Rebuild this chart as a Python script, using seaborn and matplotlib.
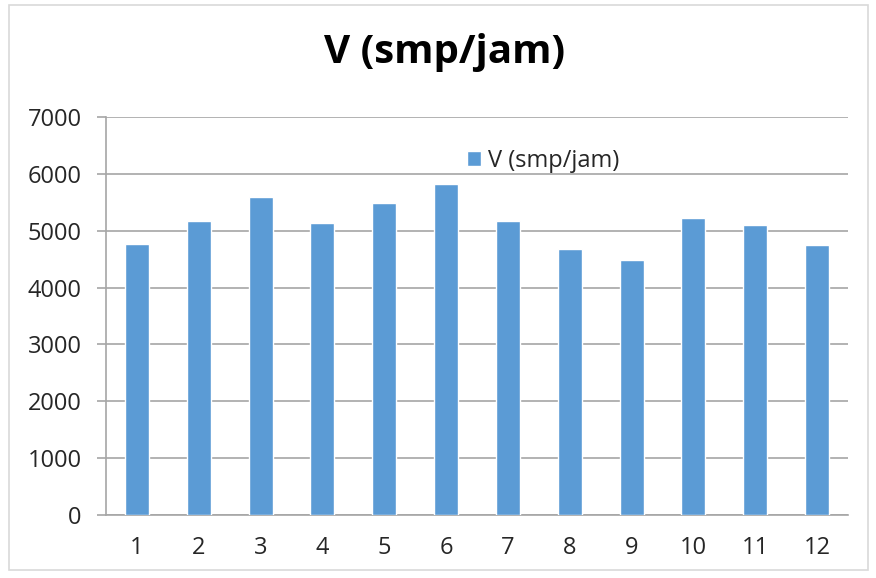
import matplotlib
matplotlib.use("Agg")
import matplotlib.pyplot as plt
import seaborn as sns
import pandas as pd
from matplotlib.patches import Rectangle

# data
jam = [str(i) for i in range(1, 13)]
v_smp = [4770, 5165, 5585, 5140, 5480, 5830, 5165, 4685, 4485, 5230, 5095, 4755]

df = pd.DataFrame({'jam': jam, 'V': v_smp})

sns.set_theme(style='white')
plt.rcParams['font.family'] = ['Open Sans', 'DejaVu Sans']

fig = plt.figure(figsize=(8.76, 5.78), dpi=100)
ax = fig.add_axes([106/876, 63/578, 742/876, 398/578])

sns.barplot(data=df, x='jam', y='V', color='#5B9BD5', width=0.39,
            saturation=1, label='V (smp/jam)', ax=ax, zorder=3)

ax.set_ylim(0, 7000)
ax.set_yticks(range(0, 7001, 1000))
ax.set_xlim(-0.5, 11.5)
ax.yaxis.grid(True, color='#A6A6A6', linewidth=1.2, zorder=0)
ax.set_axisbelow(True)
ax.set_xlabel('')
ax.set_ylabel('')

for s in ['top', 'right']:
    ax.spines[s].set_visible(False)
for s in ['left', 'bottom']:
    ax.spines[s].set_color('#A6A6A6')
    ax.spines[s].set_linewidth(1.2)

# tick marks between categories on x, outward marks on y
ax.set_xticks([i - 0.5 for i in range(13)], minor=True)
ax.tick_params(axis='x', which='major', length=0, labelsize=17, pad=15, colors='#262626')
ax.tick_params(axis='x', which='minor', length=6, color='#A6A6A6', width=1.2, direction='out')
ax.tick_params(axis='y', length=6.5, color='#A6A6A6', width=1.2, direction='out',
               labelsize=17, pad=11, labelcolor='#262626', left=True)

fig.text(445/876, 1 - 63/578, 'V (smp/jam)', ha='center', va='baseline',
         fontsize=29, fontweight='bold', color='black')

ax.legend(loc='center left', bbox_to_anchor=(467/876, 1 - 161/578),
          bbox_transform=fig.transFigure, frameon=False, fontsize=17,
          borderpad=0, borderaxespad=0,
          handlelength=0.6, handleheight=0.6, handletextpad=0.3,
          labelcolor='#262626')

fig.patches.append(Rectangle((9/876, 1 - 570/578), 859/876, 565/578,
                             transform=fig.transFigure, fill=False,
                             edgecolor='#D9D9D9', linewidth=1.2))

fig.savefig('out.png', dpi=100)
